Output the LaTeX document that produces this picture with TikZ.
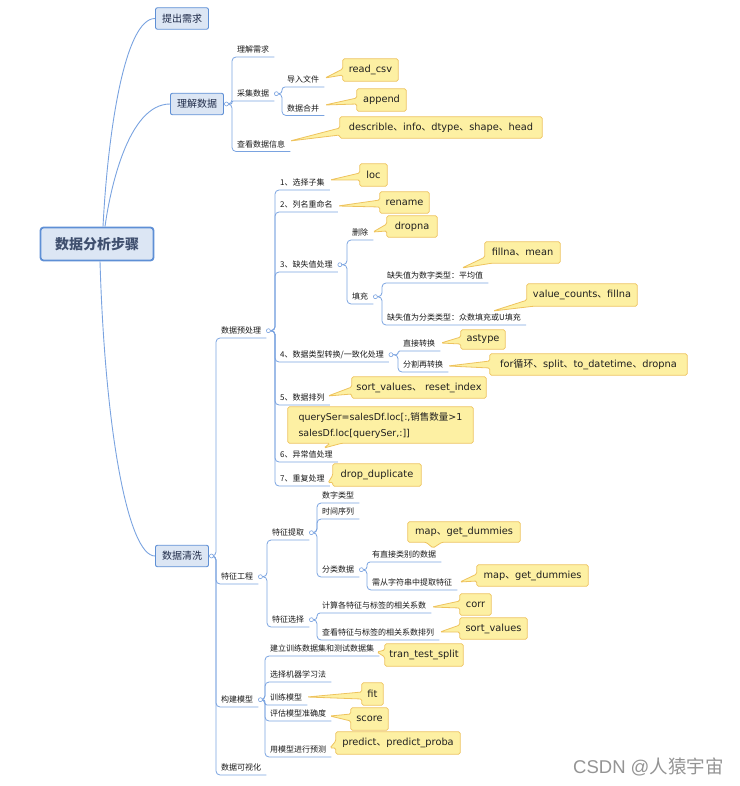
\documentclass[tikz,border=0pt]{standalone}
\usepackage{fontspec}
\newfontfamily\cjk{Noto Sans CJK SC}
\newfontfamily\lat{DejaVu Sans}
\newfontfamily\arialf{Liberation Sans}
\usetikzlibrary{calc}
\pgfdeclarelayer{bg}
\pgfsetlayers{bg,main}
\definecolor{lineblue}{HTML}{7AA3E0}
\definecolor{boxfill}{HTML}{DCE6F4}
\definecolor{boxdraw}{HTML}{5E8FD5}
\definecolor{cofill}{HTML}{FDF0A3}
\definecolor{codraw}{HTML}{EEC35E}
\definecolor{roottext}{HTML}{3F4F6E}
\definecolor{toptext}{HTML}{1E2A48}
\newcommand\dun{{\cjk 、}}
\tikzset{
  conn/.style={draw=lineblue, line width=0.8pt, rounded corners=4pt},
  curvelink/.style={draw=lineblue, line width=0.9pt},
  leaf/.style={anchor=south west, inner xsep=5pt, inner ysep=4pt, text height=6.2pt, text depth=0pt,
    font={\cjk\fontsize{8}{9}\selectfont}, text=black!90},
  topbox/.style={draw=boxdraw, fill=boxfill, rounded corners=2pt, line width=0.9pt,
    minimum width=53pt, minimum height=21.5pt, inner sep=0pt,
    font={\cjk\fontsize{10}{12}\selectfont}, text=toptext},
  rootbox/.style={draw=boxdraw, fill=boxfill, rounded corners=3pt, line width=1.8pt,
    minimum width=113pt, minimum height=33pt, inner sep=0pt,
    font={\cjk\bfseries\fontsize{14}{16}\selectfont}, text=roottext},
  co/.style={inner sep=0pt, font={\lat\fontsize{9.8}{12}\selectfont}, text=black!88},
  bubble/.style={draw=codraw, fill=cofill, line width=0.8pt, rounded corners=1.5pt},
  dot/.style={circle, draw=lineblue, fill=white, line width=0.6pt, inner sep=0pt, minimum size=4pt},
}
\newcommand\link[3][]{\draw[conn,#1] (#2) -- (#2 -| #3.south west) |- (#3.south east);}
\newcommand\callout[6]{\node[co, minimum width={(#4-#2)*1pt}, minimum height={(#5-#3)*1pt}] (#1) at ({(#2+#4)/2},{(#3+#5)/2}) {#6};}
\newcommand\ptrW[4]{\coordinate (pa) at (0,#3); \coordinate (pb) at (0,#4);
  \begin{pgfonlayer}{bg}\draw[bubble] (#2) -- (#1.west |- pa) -- (#1.south west) -- (#1.south east) -- (#1.north east) -- (#1.north west) -- (#1.west |- pb) -- cycle;\end{pgfonlayer}}
\newcommand\ptrS[4]{\coordinate (pa) at (#3,0); \coordinate (pb) at (#4,0);
  \begin{pgfonlayer}{bg}\draw[bubble] (#2) -- (pa |- #1.south) -- (#1.south west) -- (#1.north west) -- (#1.north east) -- (#1.south east) -- (pb |- #1.south) -- cycle;\end{pgfonlayer}}
\newcommand\ptrC[2]{%
  \begin{pgfonlayer}{bg}\draw[bubble] (#2) -- ([yshift=6pt]#1.south west) -- (#1.north west) -- (#1.north east) -- (#1.south east) -- ([xshift=7pt]#1.south west) -- cycle;\end{pgfonlayer}}
\begin{document}
\begin{tikzpicture}[x=1pt,y=-1pt]
\useasboundingbox (0,0) rectangle (739,786);
% main boxes
\node[rootbox] (r) at (97,244) {数据分析步骤};
\node[topbox] (t) at (182,18.5) {提出需求};
\node[topbox] (u) at (197,104) {理解数据};
\node[topbox] (q) at (182,556) {数据清洗};
\draw[curvelink] ([xshift=6pt]r.north) .. controls (108,130) and (125,18.5) .. (t.west);
\draw[curvelink] ([xshift=8pt]r.north) .. controls (110,190) and (128,104) .. (u.west);
\draw[curvelink] ([xshift=3pt]r.south) .. controls (105,430) and (128,556) .. (q.west);
% understand data
\node[leaf] (u1) at (232,57) {理解需求};
\node[leaf] (u2) at (232,101) {采集数据};
\node[leaf] (u21) at (282,87) {导入文件};
\node[leaf] (u22) at (282,115.5) {数据合并};
\node[leaf] (u3) at (232,151.5) {查看数据信息};
% cleaning
\node[leaf] (p) at (216,338) {数据预处理};
\node[leaf] (p1) at (275,190) {1、选择子集};
\node[leaf] (p2) at (275,212) {2、列名重命名};
\node[leaf] (p3) at (275,272) {3、缺失值处理};
\node[leaf] (p31) at (347,240) {删除};
\node[leaf] (p32) at (347,304) {填充};
\node[leaf] (p321) at (382,283) {缺失值为数字类型：平均值};
\node[leaf] (p322) at (382,325) {缺失值为分类类型：众数填充或U填充};
\node[leaf] (p4) at (275,362) {4、数据类型转换/一致化处理};
\node[leaf] (p41) at (398,351) {直接转换};
\node[leaf] (p42) at (398,372) {分割再转换};
\node[leaf] (p5) at (275,405) {5、数据排列};
\node[leaf] (p6) at (275,462) {6、异常值处理};
\node[leaf] (p7) at (275,486) {7、重复处理};
\node[leaf] (f) at (216,584) {特征工程};
\node[leaf] (f1) at (267,540) {特征提取};
\node[leaf] (f11) at (317,503) {数字类型};
\node[leaf] (f12) at (317,519) {时间序列};
\node[leaf] (f13) at (317,577) {分类数据};
\node[leaf] (f131) at (367,562) {有直接类别的数据};
\node[leaf] (f132) at (367,590) {需从字符串中提取特征};
\node[leaf] (f2) at (267,627) {特征选择};
\node[leaf] (f21) at (317,613) {计算各特征与标签的相关系数};
\node[leaf] (f22) at (317,640) {查看特征与标签的相关系数排列};
\node[leaf] (m) at (216,707) {构建模型};
\node[leaf] (m1) at (265,656) {建立训练数据集和测试数据集};
\node[leaf] (m2) at (265,682) {选择机器学习法};
\node[leaf] (m3) at (265,705) {训练模型};
\node[leaf] (m4) at (265,721) {评估模型准确度};
\node[leaf] (m5) at (265,757) {用模型进行预测};
\node[leaf] (v) at (216,775) {数据可视化};
% junction coordinates
\coordinate (uc) at ([xshift=2.5pt]u.east);
\coordinate (qc) at ([xshift=2.5pt]q.east);
\coordinate (u2c) at ([xshift=2pt]u2.east);
\coordinate (pc) at ([xshift=2pt]p.east);
\coordinate (p3c) at ([xshift=2pt]p3.east);
\coordinate (p32c) at ([xshift=2pt]p32.east);
\coordinate (p4c) at ([xshift=2pt]p4.east);
\coordinate (fc) at ([xshift=2pt]f.east);
\coordinate (f1c) at ([xshift=2pt]f1.east);
\coordinate (f13c) at ([xshift=2pt]f13.east);
\coordinate (f2c) at ([xshift=2pt]f2.east);
\coordinate (mc) at ([xshift=2pt]m.east);
% links
\link{uc}{u1} \link[rounded corners=1pt]{uc}{u2} \link{uc}{u3}
\link[rounded corners=3pt]{u2c}{u21} \link{u2c}{u22}
\link{qc}{p} \link{qc}{f} \link{qc}{m} \link{qc}{v}
\link{pc}{p1} \link{pc}{p2} \link{pc}{p3} \link{pc}{p4} \link{pc}{p5} \link{pc}{p6} \link{pc}{p7}
\link{p3c}{p31} \link{p3c}{p32}
\link{p32c}{p321} \link{p32c}{p322}
\link[rounded corners=1.5pt]{p4c}{p41} \link{p4c}{p42}
\link{fc}{f1} \link{fc}{f2}
\link{f1c}{f11} \link{f1c}{f12} \link{f1c}{f13}
\link[rounded corners=3pt]{f13c}{f131} \link{f13c}{f132}
\link[rounded corners=3pt]{f2c}{f21} \link{f2c}{f22}
\link{mc}{m1} \link{mc}{m2} \link[rounded corners=2pt]{mc}{m3} \link{mc}{m4} \link{mc}{m5}
% dots
\node[dot] (d1) at (uc) {};
\node[dot] (d2) at (qc) {};
\node[dot] (d3) at (u2c) {};
\node[dot] (d4) at (pc) {};
\node[dot] (d5) at (p3c) {};
\node[dot] (d6) at (p32c) {};
\node[dot] (d7) at (p4c) {};
\node[dot] (d8) at (fc) {};
\node[dot] (d9) at (f1c) {};
\node[dot] (d10) at (f13c) {};
\node[dot] (d11) at (f2c) {};
\node[dot] (d12) at (mc) {};
% callouts
\callout{k1}{343}{59}{398}{81}{read\_csv} \coordinate (k1t) at (325,78); \ptrW{k1}{k1t}{75}{69}
\callout{k2}{357}{89}{406}{111}{append} \coordinate (k2t) at (325,105); \ptrW{k2}{k2t}{104}{98}
\callout{k3}{340}{117}{542}{138}{describle\dun info\dun dtype\dun shape\dun head} \coordinate (k3t) at (290,141); \ptrW{k3}{k3t}{135}{128}
\callout{k4}{360}{164}{387}{186}{loc} \coordinate (k4t) at (330,180); \ptrW{k4}{k4t}{180}{173}
\callout{k5}{380}{192}{429}{213}{rename} \coordinate (k5t) at (338,206); \ptrW{k5}{k5t}{207}{200}
\callout{k6}{387}{216}{437}{237}{dropna} \coordinate (k6t) at (373,232); \ptrW{k6}{k6t}{231}{224}
\callout{k7}{485}{242}{560}{263}{fillna\dun mean} \coordinate (k7t) at (462,268); \ptrC{k7}{k7t}
\callout{k8}{527}{284}{637}{306}{value\_counts\dun fillna} \coordinate (k8t) at (493,311); \ptrC{k8}{k8t}
\callout{k9}{461}{330}{505}{349}{astype} \coordinate (k9t) at (441,343); \ptrW{k9}{k9t}{344}{337}
\callout{k10}{490}{354}{687}{375}{for{\cjk 循环}\dun split\dun to\_datetime\dun dropna} \coordinate (k10t) at (448,366); \ptrW{k10}{k10t}{368}{361}
\callout{k11}{352}{377}{486}{398}{sort\_values\dun\ reset\_index} \coordinate (k11t) at (328,396); \ptrW{k11}{k11t}{394}{387}
\node[co, align=left, font={\lat\fontsize{9.5}{16}\selectfont}, minimum width=185pt, minimum height=36pt] (k12) at (380.5,425) {querySer=salesDf.loc[:,{\cjk 销售数量}>1\\salesDf.loc[querySer,:]]};
\coordinate (k12t) at (324,448); \ptrS{k12}{k12t}{330}{342}
\callout{k13}{333}{464}{421}{486}{drop\_duplicate} \coordinate (k13t) at (328,483); \ptrW{k13}{k13t}{482}{475}
\callout{k14}{408}{522}{520}{542}{map\dun get\_dummies} \coordinate (k14t) at (433,548); \ptrS{k14}{k14t}{426}{442}
\callout{k15}{477}{565}{588}{586}{map\dun get\_dummies} \coordinate (k15t) at (460,582); \ptrW{k15}{k15t}{581}{574}
\callout{k16}{460}{594}{491}{615}{corr} \coordinate (k16t) at (432,607); \ptrW{k16}{k16t}{608}{601}
\callout{k17}{460}{618}{527}{639}{sort\_values} \coordinate (k17t) at (440,632); \ptrW{k17}{k17t}{632}{625}
\callout{k18}{385}{644}{463}{666}{tran\_test\_split} \coordinate (k18t) at (377,652); \ptrW{k18}{k18t}{657}{650}
\callout{k19}{362}{683}{383}{705}{fit} \coordinate (k19t) at (307,697); \ptrW{k19}{k19t}{699}{692}
\callout{k20}{351}{708}{388}{730}{score} \coordinate (k20t) at (330,716); \ptrW{k20}{k20t}{721}{714}
\callout{k21}{336}{732}{460}{754}{predict\dun predict\_proba} \coordinate (k21t) at (330,748); \ptrW{k21}{k21t}{748}{741}
% watermark
\node[anchor=west, inner sep=0pt, text=black!42, font={\cjk\fontsize{18.5}{20}\selectfont}] (wm) at (573,767) {{\arialf CSDN @}人猿宇宙};
\end{tikzpicture}
\end{document}
